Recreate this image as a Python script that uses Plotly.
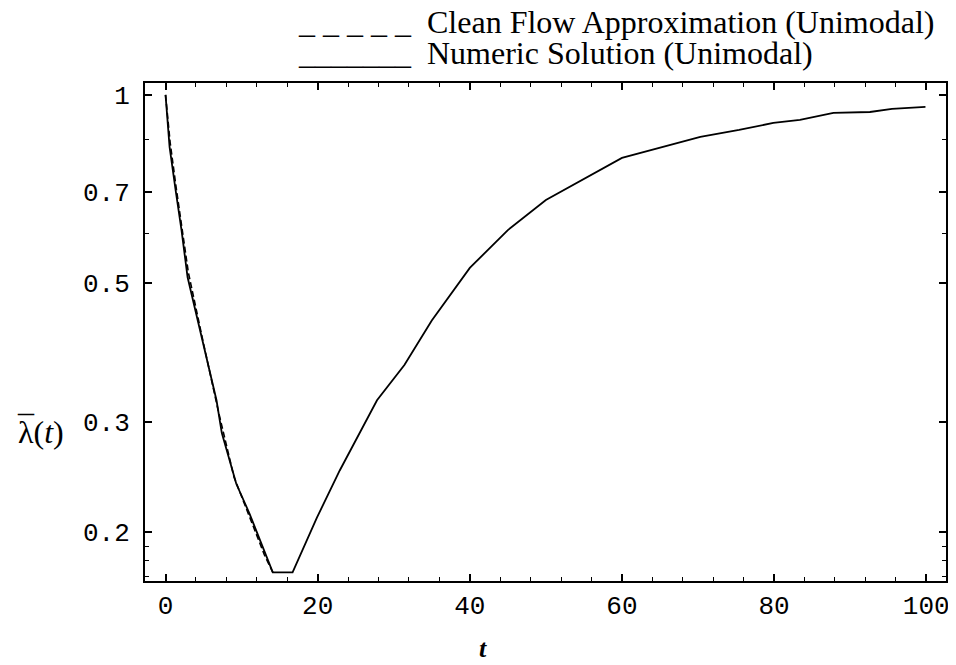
import plotly.graph_objects as go

# numeric solution (unimodal)
t_num = [0, 0.53, 1.32, 2.1, 2.9, 6.7, 7.4, 9.3, 11.05, 13.3, 14.1, 16.7,
         19.9, 22.9, 26.3, 27.8, 31.4, 35, 40, 45, 50, 60, 70.3, 75.4,
         79.9, 83.4, 87.8, 92.6, 95.5, 99.9]
lam_num = [1.0, 0.826, 0.705, 0.608, 0.511, 0.325, 0.288, 0.239, 0.214,
           0.182, 0.1725, 0.1725, 0.211, 0.251, 0.3, 0.325, 0.37, 0.436,
           0.529, 0.608, 0.679, 0.793, 0.857, 0.879, 0.902, 0.912, 0.936,
           0.939, 0.95, 0.957]

# clean flow approximation (unimodal), only visible on the descent
t_cf = [0, 0.6, 1.4, 2.2, 3.0, 5.0, 7.0, 9.0, 11.0, 13.0, 14.1]
lam_cf = [1.0, 0.84, 0.71, 0.61, 0.52, 0.40, 0.31, 0.245, 0.212, 0.184, 0.1725]

x_ticks = [0, 20, 40, 60, 80, 100]
x_minor = [v for v in range(0, 101, 4) if v % 20]
y_ticks = [0.2, 0.3, 0.5, 0.7, 1]
y_tick_text = ["0.2", "0.3", "0.5", "0.7", "1"]
y_minor = [0.17, 0.18, 0.19, 0.6, 0.85]

fig = go.Figure()
fig.add_trace(go.Scatter(x=t_cf, y=lam_cf, mode="lines",
                         line=dict(color="black", width=1.6, dash="6px,3px"),
                         name="Clean Flow Approximation (Unimodal)"))
fig.add_trace(go.Scatter(x=t_num, y=lam_num, mode="lines",
                         line=dict(color="black", width=1.8),
                         name="Numeric Solution (Unimodal)"))

tickfont = dict(family="Liberation Mono", size=26, color="black")
fig.update_xaxes(range=[-2.7, 102.6], showgrid=False, zeroline=False, automargin=False,
                 showline=True, linecolor="black", linewidth=2, mirror="allticks",
                 ticks="inside", ticklen=7, tickwidth=1.5, tickcolor="black",
                 tickvals=x_ticks, tickfont=tickfont,
                 minor=dict(tickmode="array", tickvals=x_minor, ticks="inside",
                            ticklen=4, tickwidth=1, tickcolor="black"))
fig.update_yaxes(type="log", range=[-0.777, 0.019], showgrid=False, zeroline=False,
                 automargin=False, ticklabelstandoff=8,
                 showline=True, linecolor="black", linewidth=2, mirror="allticks",
                 ticks="inside", ticklen=7, tickwidth=1.5, tickcolor="black",
                 tickvals=y_ticks, ticktext=y_tick_text, tickfont=tickfont,
                 minor=dict(tickmode="array", tickvals=y_minor, ticks="inside",
                            ticklen=4, tickwidth=1, tickcolor="black"))

serif = "Liberation Serif"
nb = "\u00a0"
# text legend, as in the original (underscore line samples)
fig.add_annotation(text=nb.join("_____") + nb * 2 + "Clean Flow Approximation (Unimodal)",
                   xref="paper", yref="paper", x=0.19, y=1.122,
                   xanchor="left", yanchor="middle", showarrow=False, borderpad=0,
                   font=dict(family=serif, size=32, color="black"))
fig.add_annotation(text="_______" + nb * 2 + "Numeric Solution (Unimodal)",
                   xref="paper", yref="paper", x=0.19, y=1.061,
                   xanchor="left", yanchor="middle", showarrow=False, borderpad=0,
                   font=dict(family=serif, size=32, color="black"))
# y-axis label: lambda with an overbar, then (t)
fig.add_annotation(text="\u03bb(<i>t</i>)",
                   xref="paper", yref="paper", x=-0.13, y=0.30,
                   xanchor="center", yanchor="middle", showarrow=False,
                   font=dict(family=serif, size=32, color="black"))
fig.add_annotation(text="\u00af",
                   xref="paper", yref="paper", x=-0.148, y=0.31,
                   xanchor="center", yanchor="middle", showarrow=False,
                   font=dict(family=serif, size=32, color="black"))
fig.add_annotation(text="<b><i>t</i></b>",
                   xref="paper", yref="paper", x=0.422, y=-0.135,
                   xanchor="center", yanchor="middle", showarrow=False,
                   font=dict(family=serif, size=26, color="black"))

# the page body adds an 8px offset, so the figure is drawn 8px smaller
fig.update_layout(width=948, height=657, showlegend=False,
                  plot_bgcolor="white", paper_bgcolor="white",
                  margin=dict(l=137, r=10, t=75, b=84))

fig.write_html("out.html")
